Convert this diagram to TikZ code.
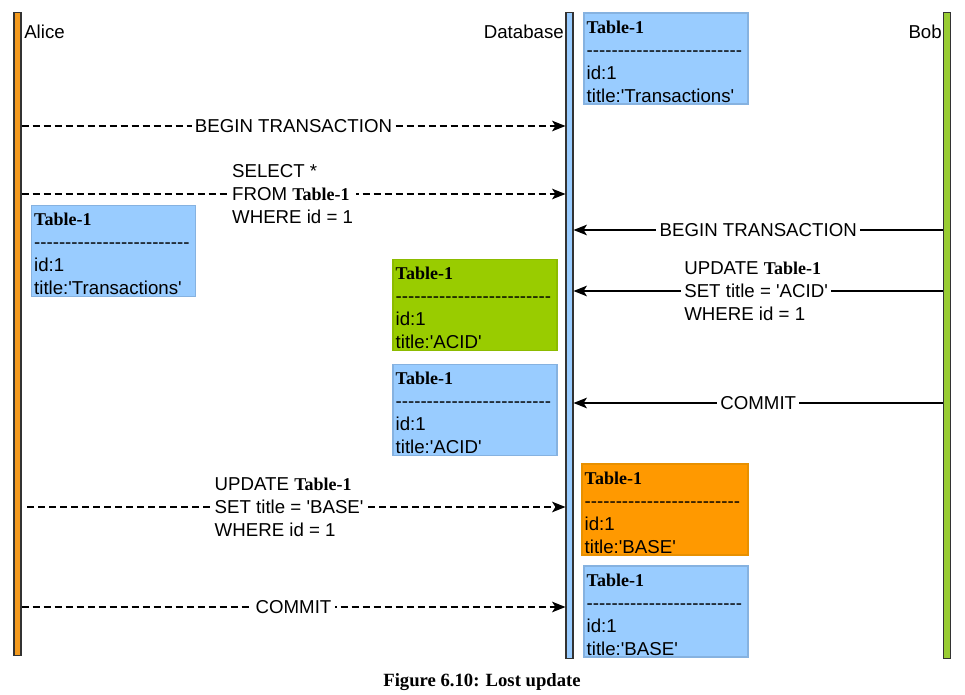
\documentclass[tikz,border=0pt]{standalone}
\usepackage{fontspec}
\setmainfont{Liberation Sans}
\newfontfamily\tserif{Liberation Serif}
\usetikzlibrary{arrows.meta}
\definecolor{lblue}{HTML}{99CCFF}
\definecolor{bblue}{HTML}{86B2E0}
\definecolor{lgreen}{HTML}{99CC00}
\definecolor{bgreen}{HTML}{8CBB00}
\definecolor{lorange}{HTML}{FF9900}
\definecolor{borange}{HTML}{E89000}
\definecolor{aorange}{HTML}{F39A1E}
\definecolor{bobgreen}{HTML}{99CC33}
\newcommand\tblhead{{\tserif\bfseries\fontsize{13.5}{17.25}\selectfont Table-1}}
\newcommand\dd{-\kern0pt}
\newcommand\tbldash{\dd\dd\dd\dd\dd\dd\dd\dd\dd\dd\dd\dd\dd\dd\dd\dd\dd\dd\dd\dd\dd\dd\dd\dd\dd}
\newcommand\q{\textquotesingle}
\tikzset{
  bar/.style={draw=black!80, line width=0.9pt, minimum width=5.25pt, inner sep=0pt, anchor=north},
  tbl/.style={draw=#1, line width=0.9pt, minimum width=123pt, minimum height=68.25pt, inner sep=0pt},
  tbltext/.style={anchor=north west, align=left, inner sep=0pt, font=\fontsize{14}{17.25}\selectfont},
  lbl/.style={fill=white, inner xsep=2.5pt, inner ysep=0pt, align=left, font=\fontsize{14}{17.25}\selectfont},
  who/.style={inner sep=0pt, font=\fontsize{14}{17}\selectfont},
  msg/.style={line width=0.9pt, -{Stealth[length=10pt, width=8pt, inset=2.5pt]}},
  msgd/.style={msg, dash pattern=on 5.25pt off 3pt},
}
\begin{document}
\begin{tikzpicture}[x=0.75pt, y=-0.75pt]
\useasboundingbox (0,0) rectangle (965,695);
% lifelines
\node[bar, fill=aorange, minimum height=482pt] (alice) at (17.5,12) {};
\node[bar, fill=lblue, minimum height=484.5pt] (db) at (569.5,12) {};
\node[bar, fill=bobgreen, minimum height=484.5pt] (bob) at (947,12) {};
\node[who, anchor=base west] (alicel) at (24,39) {Alice};
\node[who, anchor=base east] (dbl) at (564,39) {Database};
\node[who, anchor=base east] (bobl) at (942,39) {Bob};
% y levels
\coordinate (y1) at (0,126);
\coordinate (y2) at (0,194);
\coordinate (y3) at (0,230);
\coordinate (y4) at (0,291);
\coordinate (y5) at (0,403);
\coordinate (y6) at (0,507);
\coordinate (y7) at (0,607);
\coordinate (s6) at (27,507);
% messages
\draw[msgd] (alice.east |- y1) -- node[lbl] (m1) {BEGIN TRANSACTION} (db.west |- y1);
\draw[msgd] (alice.east |- y2) -- node[lbl, pos=0.38, anchor=west] (m2) {SELECT *\\FROM \tblhead\\WHERE id = 1} (db.west |- y2);
\draw[msg] (bob.west |- y3) -- node[lbl] (m3) {BEGIN TRANSACTION} (db.east |- y3);
\draw[msg] (bob.west |- y4) -- node[lbl, pos=0.7108, anchor=west] (m4) {UPDATE \tblhead\\SET title = \q ACID\q\\WHERE id = 1} (db.east |- y4);
\draw[msg] (bob.west |- y5) -- node[lbl] (m5) {COMMIT} (db.east |- y5);
\draw[msgd] (s6) -- node[lbl, pos=0.3414, anchor=west] (m6) {UPDATE \tblhead\\SET title = \q BASE\q\\WHERE id = 1} (db.west |- y6);
\draw[msgd] (alice.east |- y7) -- node[lbl] (m7) {COMMIT} (db.west |- y7);
% table boxes
\node[tbl=bblue, fill=lblue] (b1) at (666,58.5) {};
\node[tbltext] (b1t) at ([xshift=2.25pt,yshift=-6pt]b1.north west) {\tblhead\\\tbldash\\id:1\\title:\q Transactions\q};
\node[tbl=bblue, fill=lblue] (b2) at (113.5,251) {};
\node[tbltext] (b2t) at ([xshift=2.25pt,yshift=-6pt]b2.north west) {\tblhead\\\tbldash\\id:1\\title:\q Transactions\q};
\node[tbl=bgreen, fill=lgreen] (b3) at (475,305) {};
\node[tbltext] (b3t) at ([xshift=2.25pt,yshift=-6pt]b3.north west) {\tblhead\\\tbldash\\id:1\\title:\q ACID\q};
\node[tbl=bblue, fill=lblue] (b4) at (475,410) {};
\node[tbltext] (b4t) at ([xshift=2.25pt,yshift=-6pt]b4.north west) {\tblhead\\\tbldash\\id:1\\title:\q ACID\q};
\node[tbl=borange, fill=lorange, minimum width=124.5pt] (b5) at (665,509.5) {};
\node[tbltext] (b5t) at ([xshift=2.25pt,yshift=-6pt]b5.north west) {\tblhead\\\tbldash\\id:1\\title:\q BASE\q};
\node[tbl=bblue, fill=lblue] (b6) at (666,611.5) {};
\node[tbltext] (b6t) at ([xshift=2.25pt,yshift=-6pt]b6.north west) {\tblhead\\\tbldash\\id:1\\title:\q BASE\q};
% caption
\node[inner sep=0pt, anchor=base, font={\tserif\bfseries\fontsize{14}{16}\selectfont}] (cap) at (482,686) {Figure 6.10: Lost update};
\end{tikzpicture}
\end{document}
